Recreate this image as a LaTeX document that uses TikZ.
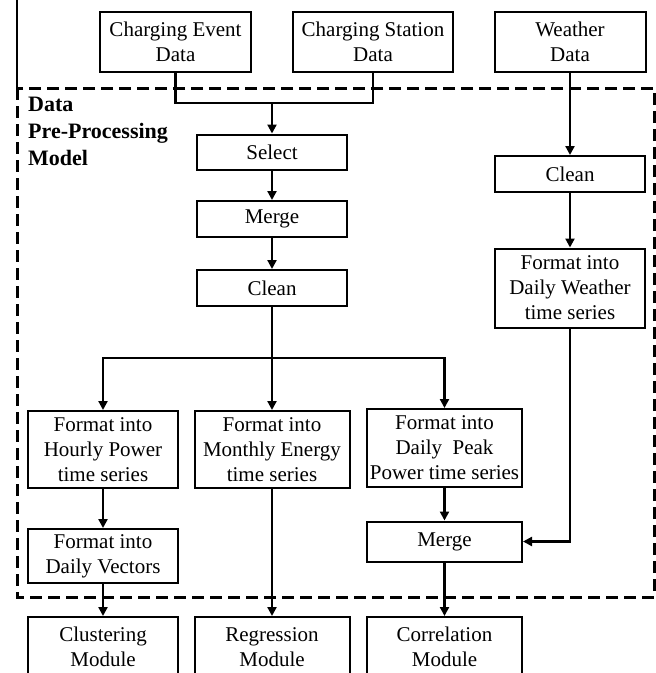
\documentclass[tikz,border=0pt]{standalone}
\usepackage{fontspec}
\setmainfont{Liberation Serif}
\usetikzlibrary{arrows.meta}

\begin{document}
\begin{tikzpicture}[x=1pt, y=-1pt, >={Triangle[length=9pt, width=9pt]},
		box/.style={draw, line width=2pt, inner sep=0pt, align=center, font=\fontsize{21}{25}\selectfont},
		flow/.style={line width=2.2pt}]
						\useasboundingbox (0, 0) rectangle (656, 673);
						\clip (0, 0) rectangle (656, 673);
					
						\draw[line width=1.2pt] (17, 0) -- (17, 88);
						\draw[line width=3pt, dash pattern=on 12pt off 6pt] (17, 88) rectangle (654, 597);
						\node[anchor=north west, align=left, inner sep=0pt, font=\bfseries\fontsize{22}{27}\selectfont] (title) at (28, 97) {Data\\Pre-Processing\\Model};
					
						\node[box, minimum width=151pt, minimum height=60pt] (event) at (175.5, 42) {Charging Event\\Data};
						\node[box, minimum width=160pt, minimum height=60pt] (station) at (373, 42) {Charging Station\\Data};
						\node[box, minimum width=151pt, minimum height=60pt] (weather) at (570, 42) {Weather\\Data};
						
						\node[box, minimum width=150pt, minimum height=35pt] (select) at (272, 152) {Select};
						\node[box, minimum width=150pt, minimum height=36pt] (merge) at (272, 219) {Merge};
						\node[box, minimum width=150pt, minimum height=36pt] (clean) at (272, 288) {Clean};
						\node[box, minimum width=150pt, minimum height=36pt] (wclean) at (570, 174) {Clean};
						\node[box, minimum width=150pt, minimum height=79pt] (wformat) at (570, 288) {Format into\\Daily Weather\\time series};
						
						\node[box, minimum width=150pt, minimum height=77pt] (hourly) at (103, 449.5) {Format into\\Hourly Power\\time series};
						\node[box, minimum width=155pt, minimum height=77pt] (monthly) at (272, 449.5) {Format into\\Monthly Energy\\time series};
						\node[box, minimum width=155pt, minimum height=78pt] (peak) at (444.5, 448) {Format into\\Daily\ \ Peak\\Power\ time series};
						\node[box, minimum width=150pt, minimum height=54pt] (vectors) at (103, 556) {Format into\\Daily Vectors};
						\node[box, minimum width=155pt, minimum height=40pt] (pmerge) at (444.5, 541.5) {Merge};
						
						\node[box, minimum width=150pt, minimum height=60pt] (clustering) at (103, 647) {Clustering\\Module};
						\node[box, minimum width=155pt, minimum height=60pt] (regression) at (272, 647) {Regression\\Module};
						\node[box, minimum width=155pt, minimum height=60pt] (correlation) at (444.5, 647) {Correlation\\Module};
						
						\coordinate (join) at (272, 102.7);
						\coordinate (split) at (272, 357.7);
						
						\draw[flow] (event.south) |- (join) -| (station.south);
						\draw[flow, ->] (join) -- (select);
						\draw[flow, ->] (select) -- (merge);
						\draw[flow, ->] (merge) -- (clean);
						\draw[flow] (clean) -- (split);
						\draw[flow, ->] (split) -| (hourly);
						\draw[flow, ->] (split) -- (monthly);
						\draw[flow, ->] (split) -| (peak);
						
						\draw[flow, ->] (weather) -- (wclean);
						\draw[flow, ->] (wclean) -- (wformat);
						\draw[flow, ->] (wformat) |- (pmerge);
						
						\draw[flow, ->] (hourly) -- (vectors);
						\draw[flow, ->] (vectors) -- (clustering);
						\draw[flow, ->] (monthly) -- (regression);
						\draw[flow, ->] (peak) -- (pmerge);
						\draw[flow, ->] (pmerge) -- (correlation);
					\end{tikzpicture}
\end{document}
